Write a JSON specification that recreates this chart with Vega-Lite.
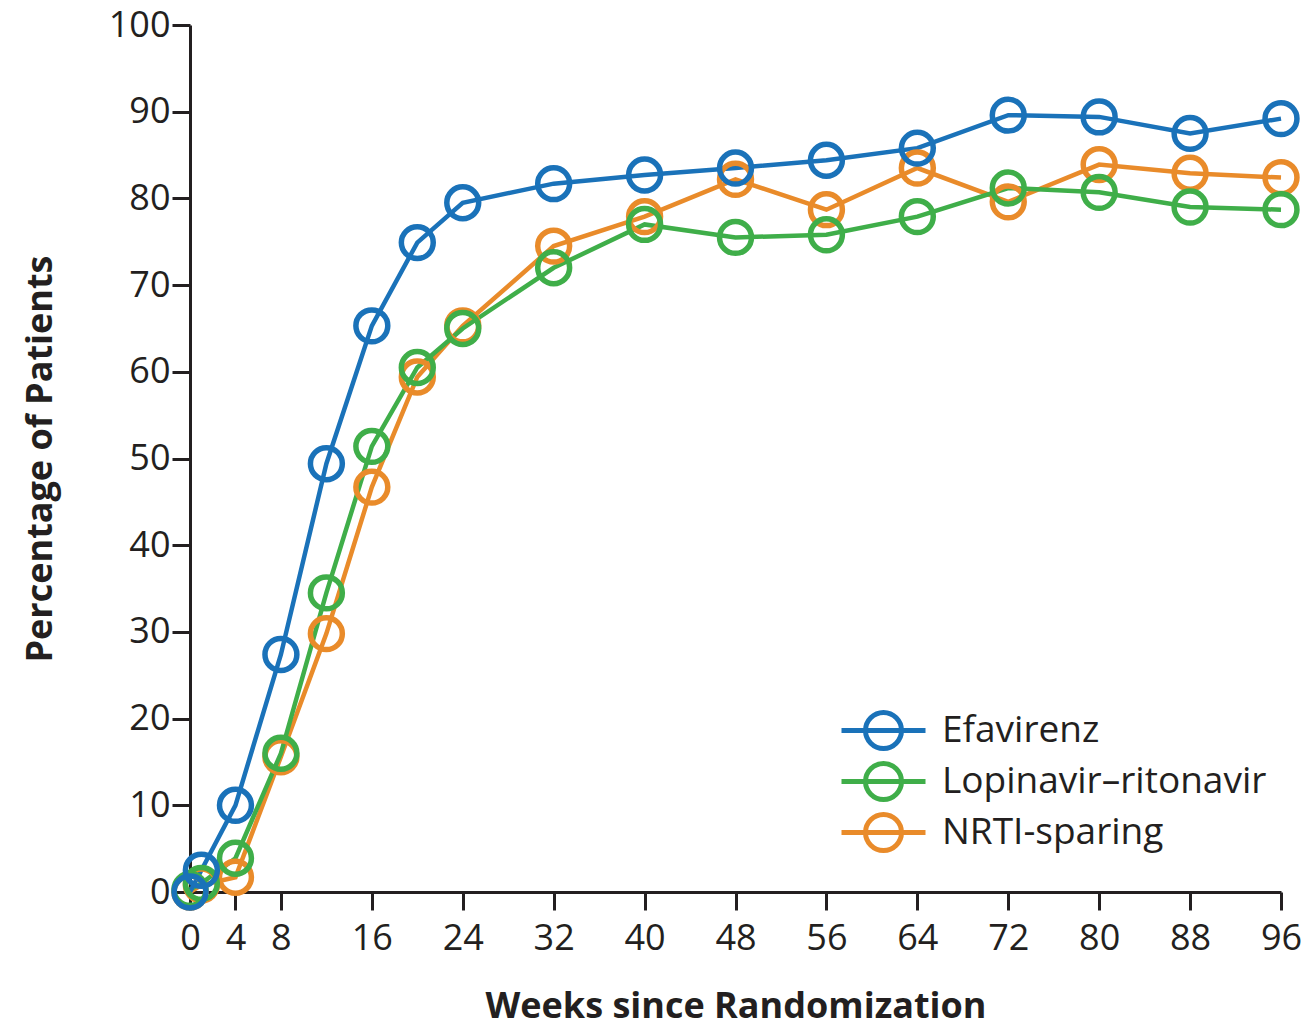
{
  "$schema": "https://vega.github.io/schema/vega-lite/v6.json",
  "width": 1091,
  "height": 867,
  "autosize": "none",
  "padding": {"left": 190, "top": 25, "right": 28, "bottom": 135},
  "background": "white",
  "config": {
    "view": {"stroke": null},
    "font": "Open Sans",
    "axis": {"grid": false, "domainColor": "#231f20", "tickColor": "#231f20", "domainWidth": 3, "tickWidth": 3, "labelColor": "#231f20", "titleColor": "#231f20", "labelFont": "Open Sans", "titleFont": "Open Sans", "labelFontSize": 36, "titleFontSize": 36, "titleFontWeight": "bold", "tickSize": 18}
  },
  "data": {
    "values": [
      {"week": 0, "pct": 0, "regimen": "NRTI-sparing"},
      {"week": 1, "pct": 0.8, "regimen": "NRTI-sparing"},
      {"week": 4, "pct": 1.7, "regimen": "NRTI-sparing"},
      {"week": 8, "pct": 15.6, "regimen": "NRTI-sparing"},
      {"week": 12, "pct": 29.8, "regimen": "NRTI-sparing"},
      {"week": 16, "pct": 46.7, "regimen": "NRTI-sparing"},
      {"week": 20, "pct": 59.4, "regimen": "NRTI-sparing"},
      {"week": 24, "pct": 65.3, "regimen": "NRTI-sparing"},
      {"week": 32, "pct": 74.5, "regimen": "NRTI-sparing"},
      {"week": 40, "pct": 77.9, "regimen": "NRTI-sparing"},
      {"week": 48, "pct": 82.2, "regimen": "NRTI-sparing"},
      {"week": 56, "pct": 78.7, "regimen": "NRTI-sparing"},
      {"week": 64, "pct": 83.5, "regimen": "NRTI-sparing"},
      {"week": 72, "pct": 79.6, "regimen": "NRTI-sparing"},
      {"week": 80, "pct": 83.9, "regimen": "NRTI-sparing"},
      {"week": 88, "pct": 82.9, "regimen": "NRTI-sparing"},
      {"week": 96, "pct": 82.4, "regimen": "NRTI-sparing"},
      {"week": 0, "pct": 0.3, "regimen": "Lopinavir–ritonavir"},
      {"week": 1, "pct": 1.0, "regimen": "Lopinavir–ritonavir"},
      {"week": 4, "pct": 3.9, "regimen": "Lopinavir–ritonavir"},
      {"week": 8, "pct": 16.0, "regimen": "Lopinavir–ritonavir"},
      {"week": 12, "pct": 34.5, "regimen": "Lopinavir–ritonavir"},
      {"week": 16, "pct": 51.4, "regimen": "Lopinavir–ritonavir"},
      {"week": 20, "pct": 60.5, "regimen": "Lopinavir–ritonavir"},
      {"week": 24, "pct": 65.0, "regimen": "Lopinavir–ritonavir"},
      {"week": 32, "pct": 72.0, "regimen": "Lopinavir–ritonavir"},
      {"week": 40, "pct": 77.0, "regimen": "Lopinavir–ritonavir"},
      {"week": 48, "pct": 75.5, "regimen": "Lopinavir–ritonavir"},
      {"week": 56, "pct": 75.8, "regimen": "Lopinavir–ritonavir"},
      {"week": 64, "pct": 77.9, "regimen": "Lopinavir–ritonavir"},
      {"week": 72, "pct": 81.2, "regimen": "Lopinavir–ritonavir"},
      {"week": 80, "pct": 80.7, "regimen": "Lopinavir–ritonavir"},
      {"week": 88, "pct": 79.0, "regimen": "Lopinavir–ritonavir"},
      {"week": 96, "pct": 78.7, "regimen": "Lopinavir–ritonavir"},
      {"week": 0, "pct": 0, "regimen": "Efavirenz"},
      {"week": 1, "pct": 2.5, "regimen": "Efavirenz"},
      {"week": 4, "pct": 10.0, "regimen": "Efavirenz"},
      {"week": 8, "pct": 27.4, "regimen": "Efavirenz"},
      {"week": 12, "pct": 49.4, "regimen": "Efavirenz"},
      {"week": 16, "pct": 65.3, "regimen": "Efavirenz"},
      {"week": 20, "pct": 74.9, "regimen": "Efavirenz"},
      {"week": 24, "pct": 79.5, "regimen": "Efavirenz"},
      {"week": 32, "pct": 81.7, "regimen": "Efavirenz"},
      {"week": 40, "pct": 82.7, "regimen": "Efavirenz"},
      {"week": 48, "pct": 83.5, "regimen": "Efavirenz"},
      {"week": 56, "pct": 84.4, "regimen": "Efavirenz"},
      {"week": 64, "pct": 85.8, "regimen": "Efavirenz"},
      {"week": 72, "pct": 89.6, "regimen": "Efavirenz"},
      {"week": 80, "pct": 89.4, "regimen": "Efavirenz"},
      {"week": 88, "pct": 87.5, "regimen": "Efavirenz"},
      {"week": 96, "pct": 89.2, "regimen": "Efavirenz"}
    ]
  },
  "encoding": {
    "x": {"field": "week", "type": "quantitative", "scale": {"domain": [0, 96], "nice": false}, "axis": {"values": [0, 4, 8, 16, 24, 32, 40, 48, 56, 64, 72, 80, 88, 96], "title": "Weeks since Randomization", "labelPadding": 11, "titlePadding": 33, "labelFlush": false}},
    "y": {"field": "pct", "type": "quantitative", "scale": {"domain": [0, 100], "nice": false}, "axis": {"values": [0, 10, 20, 30, 40, 50, 60, 70, 80, 90, 100], "title": "Percentage of Patients", "labelPadding": 2, "titlePadding": 49, "labelFlush": false}},
    "color": {"field": "regimen", "type": "nominal", "scale": {"domain": ["Efavirenz", "Lopinavir–ritonavir", "NRTI-sparing"], "range": ["#1a72b9", "#3fae49", "#e98b2a"]},
      "legend": {"title": null, "orient": "none", "legendX": 671, "legendY": 683, "padding": 0, "labelFontSize": 37, "labelFont": "Open Sans", "labelColor": "#231f20", "labelLimit": 0, "symbolType": "M-2.1,0L2.1,0M0.9,0A0.9,0.9 0 1 1 -0.9,0A0.9,0.9 0 1 1 0.9,0", "symbolSize": 1600, "symbolStrokeWidth": 5, "symbolFillColor": "transparent", "labelOffset": 36, "rowPadding": -6}}
  },
  "layer": [
    {"mark": {"type": "line", "strokeWidth": 4.5}},
    {"mark": {"type": "point", "shape": "circle", "filled": false, "size": 1018, "strokeWidth": 5.5, "opacity": 1}}
  ]
}
